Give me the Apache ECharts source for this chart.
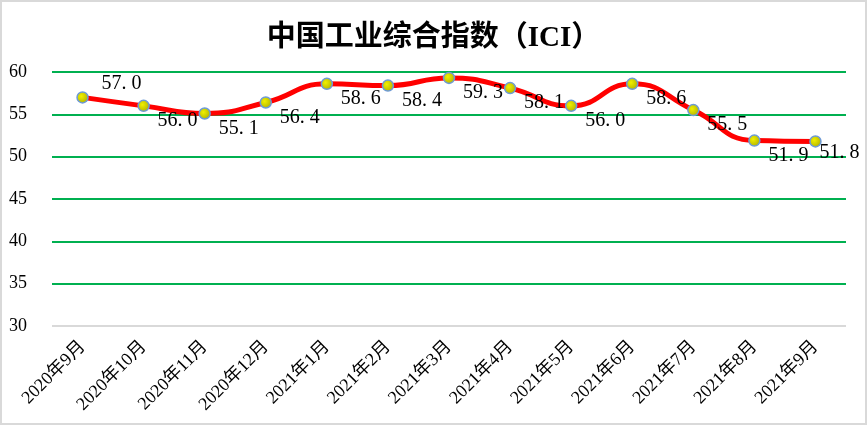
<!DOCTYPE html>
<html>
<head>
<meta charset="utf-8">
<script src="https://cdn.jsdelivr.net/npm/echarts@6/dist/echarts.min.js"></script>
<style>
html,body{margin:0;padding:0;background:#fff;}
#wrap{position:relative;width:867px;height:425px;}
#chart{position:absolute;left:0;top:0;width:867px;height:425px;}
#frame{position:absolute;left:0;top:0;width:867px;height:425px;box-sizing:border-box;border:2px solid #d9d9d9;pointer-events:none;}
</style>
</head>
<body>
<div id="wrap"><div id="chart"></div><div id="frame"></div></div>
<script>
const titleText = '中国工业综合指数（ICI）';
const categories = ['2020年9月','2020年10月','2020年11月','2020年12月','2021年1月','2021年2月','2021年3月','2021年4月','2021年5月','2021年6月','2021年7月','2021年8月','2021年9月'];
const values = [57.0, 56.0, 55.1, 56.4, 58.6, 58.4, 59.3, 58.1, 56.0, 58.6, 55.5, 51.9, 51.8];
const yMin = 30, yMax = 60, yStep = 5;

const serif = "'Liberation Serif', 'Noto Sans CJK SC', serif";
const chart = echarts.init(document.getElementById('chart'));
const lastIdx = values.length - 1;
const seriesData = values.map((v, i) => {
  if (i === 0) return { value: v, label: { offset: [39, -14] } };
  if (i === lastIdx) return { value: v, label: { offset: [24, 11] } };
  return v;
});
chart.setOption({
  animation: false,
  backgroundColor: '#fff',
  title: {
    text: titleText,
    left: 'center',
    top: 19,
    textStyle: { fontFamily: serif, fontSize: 29, fontWeight: 'bold', color: '#000' }
  },
  grid: { left: 52, right: 21, top: 72, bottom: 99 },
  xAxis: {
    type: 'category',
    data: categories,
    boundaryGap: true,
    axisLine: { show: false },
    axisTick: { show: false },
    axisLabel: { rotate: 45, margin: 18, fontFamily: serif, fontSize: 18, color: '#000', interval: 0 }
  },
  yAxis: {
    type: 'value',
    min: yMin, max: yMax, interval: yStep,
    axisLine: { show: false },
    axisTick: { show: false },
    axisLabel: { margin: 25, fontFamily: serif, fontSize: 18, color: '#000' },
    splitLine: { lineStyle: { color: ['#d9d9d9', '#00b050', '#00b050', '#00b050', '#00b050', '#00b050', '#00b050'], width: 2 } }
  },
  series: [{
    type: 'line',
    data: seriesData,
    smooth: 0.5,
    lineStyle: { color: '#ff0000', width: 5 },
    symbol: 'circle',
    symbolSize: 11,
    itemStyle: {
      color: new echarts.graphic.RadialGradient(0.4, 0.4, 0.7, [
        { offset: 0, color: '#f0f000' },
        { offset: 1, color: '#a8a800' }
      ]),
      borderColor: '#6d9ad6',
      borderWidth: 1.5
    },
    label: {
      show: true,
      position: 'inside',
      offset: [34, 15],
      fontFamily: serif,
      fontSize: 20,
      color: '#000',
      formatter: p => Number(p.value).toFixed(1).replace('.', '. ')
    }
  }]
});
</script>
</body>
</html>
